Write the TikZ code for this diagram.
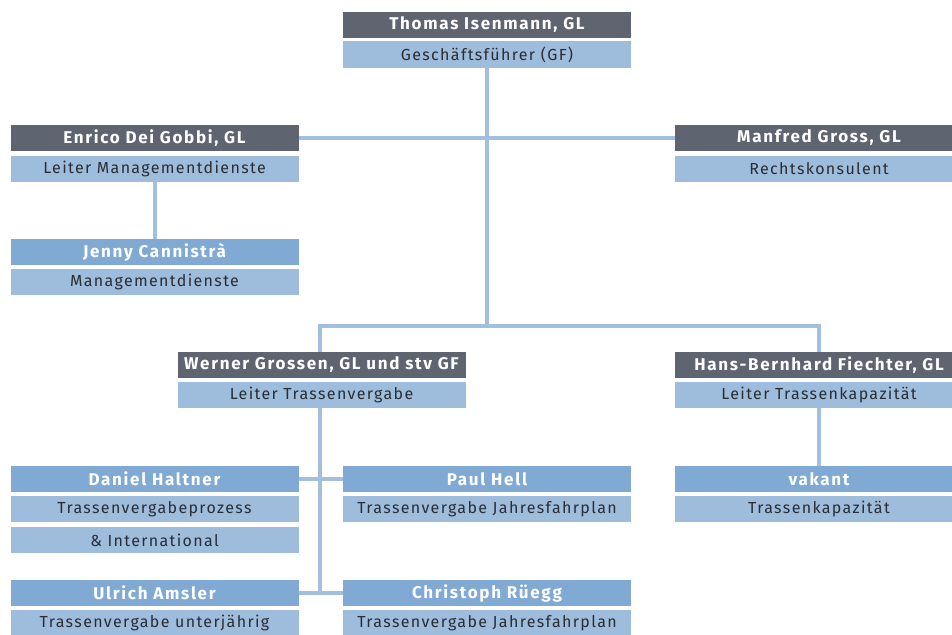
\documentclass[tikz,border=0pt]{standalone}
\usepackage{fontspec}
\setmainfont{Fira Sans}[LetterSpace=8.5, BoldFeatures={LetterSpace=10}]
\usetikzlibrary{positioning}

\definecolor{bardark}{HTML}{5E6570}
\definecolor{barmid}{HTML}{80AAD3}
\definecolor{barlight}{HTML}{9EBCDC}
\definecolor{linkblue}{HTML}{A2BFDE}
\definecolor{txtdark}{HTML}{2A2D33}

\tikzset{
  box/.style={rectangle, minimum width=288pt, minimum height=26pt, inner sep=0pt,
    font=\fontsize{16}{18}\selectfont},
  head/.style={box, fill=bardark, text=white, font=\fontsize{17}{18}\selectfont\bfseries},
  staff/.style={box, fill=barmid, text=white, font=\fontsize{17}{18}\selectfont\bfseries},
  role/.style={box, fill=barlight, text=txtdark},
  link/.style={draw=linkblue, line width=4pt}
}

\begin{document}
\begin{tikzpicture}[x=1pt, y=-1pt]
        \useasboundingbox (0, 0) rectangle (952, 634);
        % Geschaeftsfuehrer
        \node[head] (thomas) at (487, 25) {Thomas Isenmann, GL};
        \node[role] (thomasT) at (487, 54.5) {Geschäftsführer (GF)};
        % erste Ebene
        \node[head] (enrico) at (154.5, 138) {Enrico Dei Gobbi, GL};
        \node[role] (enricoT) at (154.5, 169) {Leiter Managementdienste};
        \node[head] (manfred) at (819, 138) {Manfred Gross, GL};
        \node[role] (manfredT) at (819, 169) {Rechtskonsulent};
        \node[staff] (jenny) at (154.5, 252) {Jenny Cannistrà};
        \node[role] (jennyT) at (154.5, 282) {Managementdienste};
        % zweite Ebene
        \node[head] (werner) at (321.5, 365) {Werner Grossen, GL und stv GF};
        \node[role] (wernerT) at (321.5, 395) {Leiter Trassenvergabe};
        \node[head] (hans) at (819, 365) {Hans-Bernhard Fiechter, GL};
        \node[role] (hansT) at (819, 395) {Leiter Trassenkapazität};
        % Teams
        \node[staff] (daniel) at (154.5, 479) {Daniel Haltner};
        \node[role] (danielT) at (154.5, 509) {Trassenvergabeprozess};
        \node[role] (danielU) at (154.5, 540) {\& International};
        \node[staff] (paul) at (487, 479) {Paul Hell};
        \node[role] (paulT) at (487, 509) {Trassenvergabe Jahresfahrplan};
        \node[staff] (vakant) at (819, 479) {vakant};
        \node[role] (vakantT) at (819, 509) {Trassenkapazität};
        \node[staff] (ulrich) at (154.5, 593) {Ulrich Amsler};
        \node[role] (ulrichT) at (154.5, 623) {Trassenvergabe unterjährig};
        \node[staff] (christoph) at (487, 593) {Christoph Rüegg};
        \node[role] (christophT) at (487, 623) {Trassenvergabe Jahresfahrplan};
        % Verbindungen
        \coordinate (split) at (487, 326);
        \coordinate (wernerB) at (320, 593);
        \draw[link] (thomasT.south) -- (split);
        \draw[link] (werner.north -| wernerB) |- (split) -| (hans.north);
        \draw[link] (enrico.east) -- (manfred.west);
        \draw[link] (enricoT.south) -- (jenny.north);
        \draw[link] (hansT.south) -- (vakant.north);
        \draw[link] (wernerT.south -| wernerB) -- (wernerB);
        \draw[link] (daniel.east) -- (paul.west);
        \draw[link] (ulrich.east) -- (christoph.west);
    \end{tikzpicture}
\end{document}
